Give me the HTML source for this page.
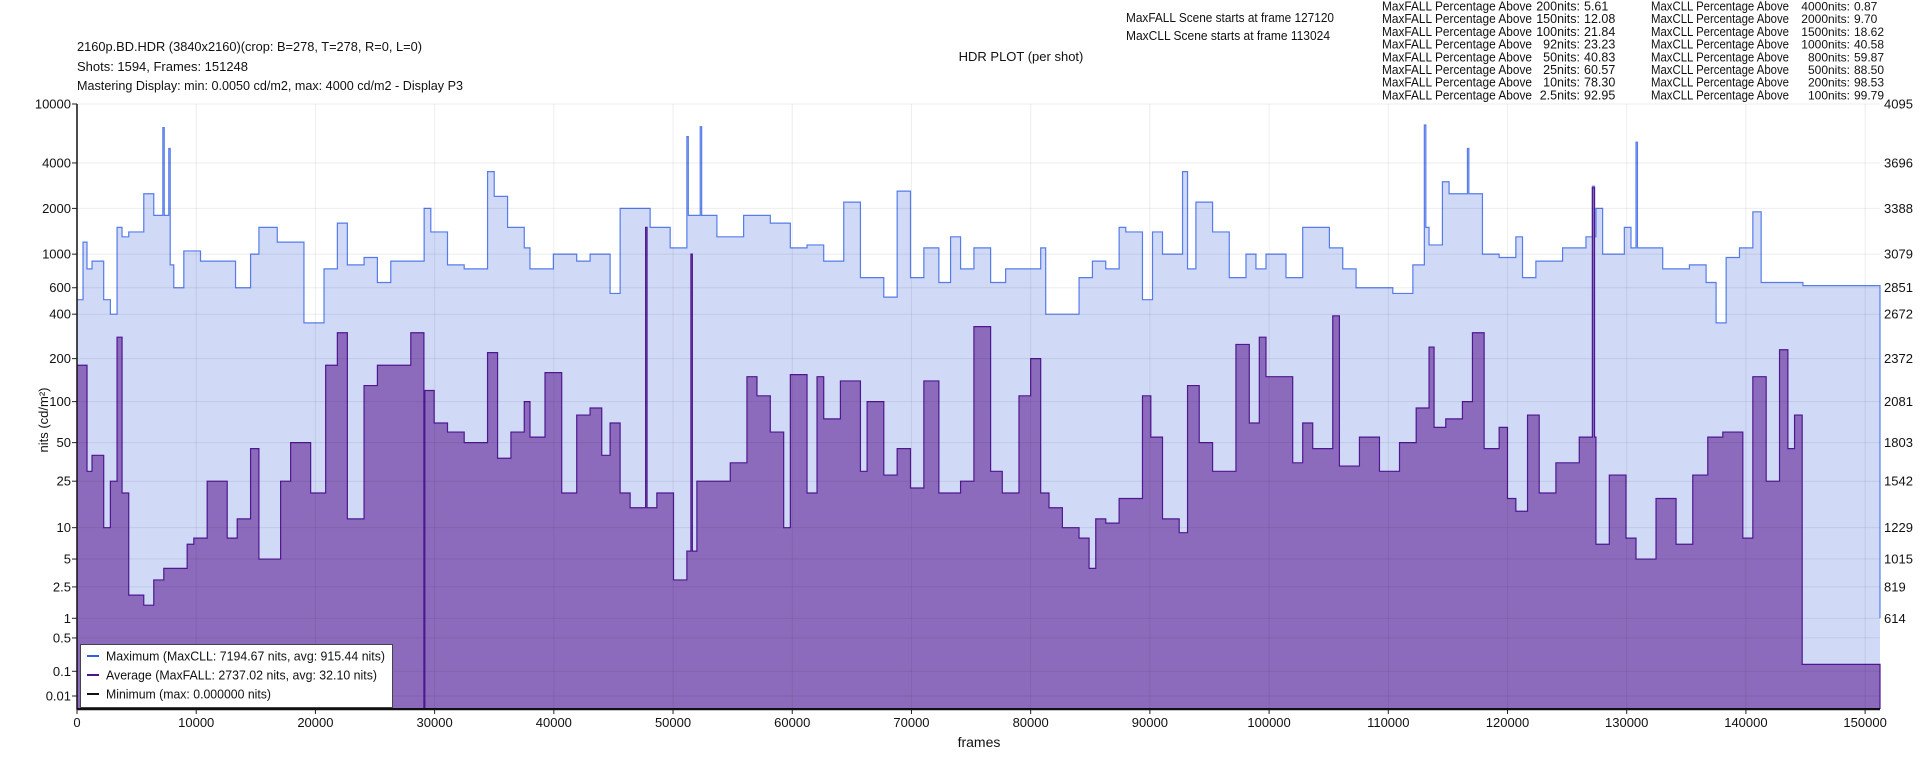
<!DOCTYPE html>
<html><head><meta charset="utf-8">
<style>
html,body{margin:0;padding:0;background:#fff;}
svg{display:block;font-family:"Liberation Sans",sans-serif;}
</style></head>
<body>
<svg id="chart" width="1920" height="768" viewBox="0 0 1920 768" xmlns="http://www.w3.org/2000/svg">
  <rect x="0" y="0" width="1920" height="768" fill="#fff"/>
  <g font-size="13" fill="#111">
    <text x="77" y="51" textLength="345" lengthAdjust="spacingAndGlyphs">2160p.BD.HDR (3840x2160)(crop: B=278, T=278, R=0, L=0)</text>
    <text x="77" y="71" textLength="171" lengthAdjust="spacingAndGlyphs">Shots:  1594, Frames: 151248</text>
    <text x="77" y="90" textLength="386" lengthAdjust="spacingAndGlyphs">Mastering Display: min: 0.0050 cd/m2, max: 4000 cd/m2 - Display P3</text>
    <text x="1021" y="61" text-anchor="middle">HDR PLOT (per shot)</text>
    <text x="1126" y="22" textLength="208" lengthAdjust="spacingAndGlyphs">MaxFALL Scene starts at frame 127120</text>
    <text x="1126" y="40" textLength="204" lengthAdjust="spacingAndGlyphs">MaxCLL Scene starts at frame 113024</text>
  </g>
  <g id="stats" font-size="12.5" fill="#111"></g>
  <g id="plot"></g>
  <g id="axes"></g>
  <text x="0" y="0" transform="translate(48,420) rotate(-90)" text-anchor="middle" font-size="13" fill="#111">nits (cd/m²)</text>
  <text x="979" y="747" text-anchor="middle" font-size="14" fill="#111">frames</text>
  <g>
    <rect x="80.5" y="644.5" width="312" height="63" fill="#fff" stroke="#444" stroke-width="1"/>
    <line x1="87" y1="656" x2="99" y2="656" stroke="#2f5fe8" stroke-width="2"/>
    <text x="106" y="660.5" font-size="13" textLength="279" lengthAdjust="spacingAndGlyphs" fill="#111">Maximum (MaxCLL: 7194.67 nits, avg: 915.44 nits)</text>
    <line x1="87" y1="675" x2="99" y2="675" stroke="#4b1585" stroke-width="2"/>
    <text x="106" y="679.5" font-size="13" textLength="271" lengthAdjust="spacingAndGlyphs" fill="#111">Average (MaxFALL: 2737.02 nits, avg: 32.10 nits)</text>
    <line x1="87" y1="694" x2="99" y2="694" stroke="#111" stroke-width="2"/>
    <text x="106" y="698.5" font-size="13" textLength="165" lengthAdjust="spacingAndGlyphs" fill="#111">Minimum (max: 0.000000 nits)</text>
  </g>
</svg>
<script>
const maxFrames = [0,504,840,1260,2240,2800,3360,3780,4340,5600,6440,7200,7320,7700,7820,8120,8960,10360,11200,13300,14560,15260,16800,19040,20720,21840,22680,24080,25200,26320,29120,29680,31080,32480,34440,35000,36120,37520,
38000,39960,41920,43040,44720,45560,48080,49760,51160,51280,52280,52400,53680,55920,58160,59840,61240,62640,64320,65720,67680,68800,69920,71040,72300,73280,74120,75240,
76640,77900,80840,81260,84060,85180,86300,87420,87980,89380,90220,91060,92740,93160,93860,95260,96660,98060,98900,99740,101420,102820,105060,106180,107300,110380,112060,113024,113150,
113420,114540,115100,116640,116760,117900,119300,120700,121260,122380,124620,126580,127120,127300,127420,127980,129800,130360,130780,130900,133020,135260,136660,137500,138340,139460,140580,141280,144780];
const maxNits = [500,1200,800,900,500,400,1500,1300,1400,2500,1800,6900,1800,5000,850,600,1050,900,900,600,1000,1500,1200,350,800,1600,850,950,650,900,2000,1400,850,800,3500,2400,1500,1100,
800,1000,900,1000,550,2000,1500,1100,6000,1800,7000,1800,1300,1800,1600,1100,1150,900,2200,700,520,2600,700,1100,650,1300,800,1100,
650,800,1100,400,700,900,800,1500,1400,500,1400,1000,3500,800,2200,1400,700,1000,800,1000,700,1500,1100,800,600,550,850,7194,1500,
1150,3000,2500,5000,2500,1000,950,1300,700,900,1100,1300,2800,1300,2000,1000,1500,1100,5500,1100,800,850,650,350,950,1100,1900,650,620];
const avgFrames = [0,840,1260,2240,2800,3360,3780,4340,5600,6440,7280,9240,9800,10920,12600,13440,14560,15260,17080,17920,19600,20860,21840,22680,24080,25200,28000,29100,29180,29960,31080,32480,34440,35280,36400,37520,
38000,39260,40660,41920,43040,44020,44720,45560,46400,47700,47820,48640,50040,51160,51500,51620,52000,54800,56200,57040,58160,59280,59840,61240,62080,62640,64040,65720,66280,67680,68800,69920,71040,72300,74120,75240,
76640,77620,79020,80000,80840,81540,82660,84060,84900,85460,86300,87420,89380,90080,91060,92460,93160,94140,95260,97220,98340,99180,99740,101980,102820,103660,105340,105900,107580,109260,110940,112340,
113420,113840,114820,116220,117060,118040,119300,120000,120700,121680,122660,124060,126020,127120,127300,127420,128540,129940,130780,132460,134140,135540,136800,138060,139740,140580,141700,142820,143520,144080,144720];
const avgNits = [180,30,40,10,25,280,20,2,1.5,3,4,7,8,25,8,12,45,5,25,50,20,180,300,12,130,180,300,0,120,70,60,50,220,38,60,100,
55,160,20,80,90,40,70,20,15,1500,15,20,3,6,1000,6,25,35,150,110,60,10,155,20,150,75,140,30,100,28,45,22,140,20,25,330,
30,20,110,200,20,15,10,8,4,12,11,18,110,55,12,9,130,50,30,250,70,280,150,35,70,45,390,33,55,30,50,90,
240,65,75,100,300,45,65,18,14,80,20,35,55,2737,55,7,28,8,5,18,7,28,55,60,8,150,25,230,45,80,0.15];
const totalFrames = 151248;
const yTicks = [10000,4000,2000,1000,600,400,200,100,50,25,10,5,2.5,1,0.5,0.1,0.01];
const yTickLabels = ["10000","4000","2000","1000","600","400","200","100","50","25","10","5","2.5","1","0.5","0.1","0.01"];
const rightTickNits = [10000,4000,2000,1000,600,400,200,100,50,25,10,5,2.5,1];
const rightTickLabels = ["4095","3696","3388","3079","2851","2672","2372","2081","1803","1542","1229","1015","819","614"];
const xTicks = [0,10000,20000,30000,40000,50000,60000,70000,80000,90000,100000,110000,120000,130000,140000,150000];
const fallLabels = ["200nits:","150nits:","100nits:","92nits:","50nits:","25nits:","10nits:","2.5nits:"];
const fallValues = ["5.61","12.08","21.84","23.23","40.83","60.57","78.30","92.95"];
const cllLabels = ["4000nits:","2000nits:","1500nits:","1000nits:","800nits:","500nits:","200nits:","100nits:"];
const cllValues = ["0.87","9.70","18.62","40.58","59.87","88.50","98.53","99.79"];

const NS = "http://www.w3.org/2000/svg";
const L = 77, R = 1880, T = 104, B = 709;
function pq(n){
  const m1=0.1593017578125,m2=78.84375,c1=0.8359375,c2=18.8515625,c3=18.6875;
  const y=Math.pow(Math.max(n,0)/10000,m1);
  return Math.pow((c1+c2*y)/(1+c3*y),m2);
}
function xs(f){ return L + f/totalFrames*(R-L); }
function ys(n){ return n<=0 ? B : B - pq(n)*(B-T); }
function el(tag, attrs, parent){
  const e=document.createElementNS(NS,tag);
  for(const k in attrs) e.setAttribute(k,attrs[k]);
  parent.appendChild(e); return e;
}
function stepPath(frames, vals){
  let d = "M"+xs(frames[0]).toFixed(2)+","+ys(vals[0]).toFixed(2);
  for(let i=1;i<frames.length;i++){
    d += "H"+xs(frames[i]).toFixed(2)+"V"+ys(vals[i]).toFixed(2);
  }
  d += "H"+xs(totalFrames).toFixed(2);
  return d;
}
const plot=document.getElementById("plot");
const axes=document.getElementById("axes");
const stats=document.getElementById("stats");

for(let i=0;i<fallLabels.length;i++){
  const yb = 10.5 + i*12.7;
  const a=el("text",{x:1382,y:yb,textLength:150,lengthAdjust:"spacingAndGlyphs"},stats);
  a.textContent="MaxFALL Percentage Above";
  
  
  const b=el("text",{x:1580,y:yb,"text-anchor":"end"},stats);
  b.textContent=fallLabels[i];
  
  
  const c=el("text",{x:1584,y:yb},stats);
  c.textContent=fallValues[i];
  
  
  const a2=el("text",{x:1651,y:yb,textLength:138,lengthAdjust:"spacingAndGlyphs"},stats);
  a2.textContent="MaxCLL Percentage Above";
  
  
  const b2=el("text",{x:1850,y:yb,"text-anchor":"end","font-size":12},stats);
  b2.textContent=cllLabels[i];
  
  
  const c2=el("text",{x:1854,y:yb,"font-size":12},stats);
  c2.textContent=cllValues[i];
  
  
}

const maxLine = stepPath(maxFrames, maxNits);
const maxFill = el("path",{d:maxLine+"V"+B+"H"+xs(0)+"Z",fill:"#d0d9f6",stroke:"none"},plot);


const maxStroke = el("path",{d:maxLine+"V"+ys(1),fill:"none",stroke:"#3d68e6","stroke-width":1.2,"stroke-opacity":0.85},plot);


const avgLine = stepPath(avgFrames, avgNits);
const avgFill = el("path",{d:avgLine+"V"+B+"H"+xs(0)+"Z",fill:"#8c6bbc",stroke:"none"},plot);


const avgStroke = el("path",{d:avgLine+"V"+B,fill:"none",stroke:"#4e1890","stroke-width":1.2},plot);


const minStroke = el("line",{x1:L,y1:B-0.5,x2:R,y2:B-0.5,stroke:"#111","stroke-width":1},plot);



for(let i=0;i<yTicks.length;i++){
  const y=ys(yTicks[i]);
  const g=el("line",{x1:L,y1:y,x2:R,y2:y,stroke:"#000","stroke-opacity":0.07,"stroke-width":1},axes);
  
  
  const t=el("line",{x1:L-5,y1:y,x2:L,y2:y,stroke:"#222","stroke-width":1},axes);
  
  
  const lb=el("text",{x:L-6,y:y+4.5,"text-anchor":"end","font-size":13,fill:"#111"},axes);
  lb.textContent=yTickLabels[i];
  
  
}
for(let i=0;i<rightTickNits.length;i++){
  const y=ys(rightTickNits[i]);
  const lb=el("text",{x:1884,y:y+4.5,"font-size":13,fill:"#111"},axes);
  lb.textContent=rightTickLabels[i];
  
  
}
for(let i=0;i<xTicks.length;i++){
  const x=xs(xTicks[i]);
  const g=el("line",{x1:x,y1:T,x2:x,y2:B,stroke:"#000","stroke-opacity":0.07,"stroke-width":1},axes);
  
  
  const t=el("line",{x1:x,y1:B,x2:x,y2:B+5,stroke:"#222","stroke-width":1},axes);
  
  
  const lb=el("text",{x:x,y:727,"text-anchor":"middle","font-size":13,fill:"#111"},axes);
  lb.textContent=String(xTicks[i]);
  
  
}
const ya=el("line",{x1:L,y1:T,x2:L,y2:B+0.5,stroke:"#111","stroke-width":1.5},axes);


const xa=el("line",{x1:L,y1:B+0.5,x2:R,y2:B+0.5,stroke:"#111","stroke-width":1.5},axes);


</script>
</body></html>
